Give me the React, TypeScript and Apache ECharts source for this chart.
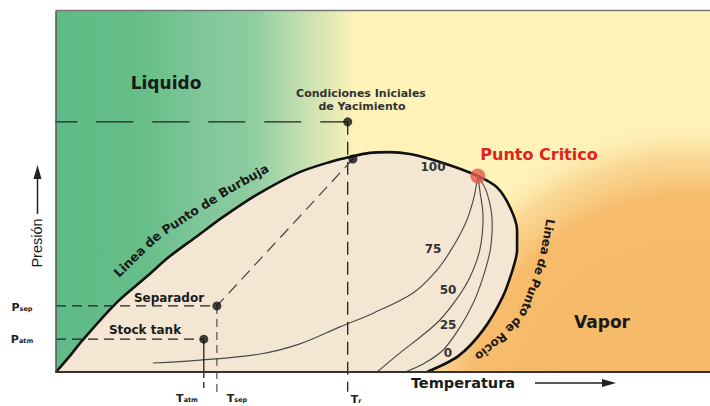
import React, { useEffect, useRef } from "react";
import * as echarts from "echarts";

// Temperature (0-100 relative units) vs Pressure (0-100 relative units)
const bubbleCurve: number[][] = [
  [0, 0], [2.1, 4.4], [4.1, 8.9], [9.2, 19.1], [13.8, 26.3], [17.3, 31.9], [21.4, 37.4],
  [25.5, 42.9], [30.6, 49.0], [36.9, 55.1], [41.9, 58.2], [45.0, 59.6], [48.0, 60.7],
  [51.1, 60.9], [54.1, 60.4], [57.2, 59.0], [61.0, 56.8],
];
const dewCurve: number[][] = [
  [64.5, 54.3], [67.4, 51.2], [69.4, 45.7], [70.5, 39.3], [70.5, 33.8], [69.9, 28.8],
  [68.3, 20.8], [65.3, 11.6], [61.5, 4.4], [56.7, 0],
];
const quality75: number[][] = [
  [14.8, 2.5], [22.0, 3.3], [31.2, 5.0], [37.3, 7.8], [43.4, 12.5], [48.5, 16.3],
  [54.6, 21.9], [58.0, 27.7], [60.2, 33.2], [62.5, 40.7], [63.8, 47.6], [64.5, 54.3],
];
const quality50: number[][] = [
  [64.5, 54.3], [64.8, 50.4], [65.3, 42.9], [64.8, 33.8], [63.3, 26.3], [61.5, 20.8],
  [58.7, 14.4], [55.7, 9.7], [52.6, 5.3], [49.1, 0],
];
const quality25: number[][] = [
  [64.5, 54.3], [65.9, 49.6], [66.7, 41.3], [66.4, 33.8], [65.3, 26.3], [63.8, 19.1],
  [61.8, 12.5], [59.2, 6.1], [56.4, 2.5], [53.4, 0],
];
const criticalPoint = [64.5, 54.3];
const initialConditions = [44.6, 69.3];
const bubblePoint = [45.4, 59.0];
const separatorPoint = [24.6, 18.3];
const stockTankPoint = [22.6, 9.1];
const axisLeftExtent = -2.4;
const tickBelow = [-5.5, -6.4, -5.5]; // Tr, Tsep, Tatm guide ends

const qualityLabels = ["100", "75", "50", "25", "0"];
const bubbleLabelWords = ["Linea", "de", "Punto", "de", "Burbuja"];
const dewLabelWords = ["Linea", "de", "Punto", "de", "Rocio"];

const FONT = "'DejaVu Sans', 'Liberation Sans', sans-serif";
const deg = (d: number) => (d * Math.PI) / 180;

const txt = (
  text: string, x: number, y: number, size: number,
  extra: { rot?: number; weight?: string; fill?: string; family?: string } = {}
) => ({
  type: "text",
  x, y, z: 100,
  rotation: extra.rot ? deg(extra.rot) : 0,
  style: {
    text,
    fontSize: size,
    fontWeight: extra.weight ?? "bold",
    fontFamily: extra.family ?? FONT,
    fill: extra.fill ?? "#1a1a1a",
    align: "center",
    verticalAlign: "middle",
  },
});

let measureCtx: CanvasRenderingContext2D | null = null;
const measure = (t: string, font: string) => {
  if (!measureCtx) measureCtx = document.createElement("canvas").getContext("2d");
  measureCtx!.font = font;
  return measureCtx!.measureText(t).width;
};

// place words along a pixel polyline (layout path for the curved captions)
const wordsAlong = (words: string[], path: number[][], size: number) => {
  const font = `bold ${size}px 'DejaVu Sans'`;
  const space = measure(" ", font);
  const cum = [0];
  for (let i = 1; i < path.length; i++) {
    cum.push(cum[i - 1] + Math.hypot(path[i][0] - path[i - 1][0], path[i][1] - path[i - 1][1]));
  }
  const pointAt = (s: number) => {
    let i = 1;
    while (i < path.length - 1 && cum[i] < s) i++;
    const t = (s - cum[i - 1]) / (cum[i] - cum[i - 1]);
    return [
      path[i - 1][0] + (path[i][0] - path[i - 1][0]) * t,
      path[i - 1][1] + (path[i][1] - path[i - 1][1]) * t,
    ];
  };
  const out: any[] = [];
  let s = 0;
  for (const w of words) {
    const width = measure(w, font);
    const c = pointAt(s + width / 2);
    const a = pointAt(s);
    const b = pointAt(s + width);
    const ang = Math.atan2(b[1] - a[1], b[0] - a[0]);
    out.push(txt(w, c[0], c[1], size, { rot: (-ang * 180) / Math.PI }));
    s += width + space;
  }
  return out;
};

const subLabel = (main: string, sub: string, x: number, y: number) => ({
  type: "text", x, y, z: 100,
  style: {
    text: `{a|${main}}{b|${sub}}`,
    align: "center",
    verticalAlign: "middle",
    rich: {
      a: { fontSize: 11, fontWeight: "bold", fontFamily: FONT, fill: "#222" },
      b: { fontSize: 6.5, fontWeight: "bold", fontFamily: FONT, fill: "#222", padding: [3, 0, 0, 0] },
    },
  },
});

const dashed = (data: number[][], dash: number[], width = 1.3, color = "#222") => ({
  type: "line",
  data,
  symbol: "none",
  clip: false,
  silent: true,
  z: 4,
  lineStyle: { color, width, type: dash },
});

export default function App() {
  const ref = useRef<HTMLDivElement>(null);
  useEffect(() => {
    const chart = echarts.init(ref.current!, undefined, { renderer: "svg" });
    const envelope = [...bubbleCurve, ...dewCurve];
    const option: any = {
      animation: false,
      grid: { left: 56, right: 0, top: 11, bottom: 34 },
      xAxis: {
        type: "value", min: 0, max: 100, z: 10,
        axisLine: { show: true, onZero: false, lineStyle: { color: "#333", width: 2 } },
        axisTick: { show: false }, axisLabel: { show: false }, splitLine: { show: false },
      },
      yAxis: {
        type: "value", min: 0, max: 100, z: 10,
        axisLine: { show: true, onZero: false, lineStyle: { color: "#555", width: 1.5 } },
        axisTick: { show: false }, axisLabel: { show: false }, splitLine: { show: false },
      },
      series: [
        {
          type: "line", data: envelope, symbol: "none", smooth: 0.3, z: 2,
          lineStyle: { color: "#111", width: 2.6 },
          areaStyle: { color: "#f3e7d3", opacity: 1 },
        },
        ...[quality75, quality50, quality25].map((q) => ({
          type: "line", data: q, symbol: "none", smooth: 0.35, z: 3,
          lineStyle: { color: "#4a4a4a", width: 1.15 },
        })),
        dashed([[axisLeftExtent, initialConditions[1]], initialConditions], [37, 19]),
        dashed([initialConditions, [initialConditions[0], tickBelow[0]]], [13, 7]),
        dashed([bubblePoint, separatorPoint], [12, 7], 1.2, "#444"),
        dashed([[0, separatorPoint[1]], separatorPoint], [10, 6]),
        dashed([separatorPoint, [separatorPoint[0], tickBelow[1]]], [8, 5], 1.1, "#444"),
        dashed([[0, stockTankPoint[1]], stockTankPoint], [10, 6]),
        dashed([stockTankPoint, [stockTankPoint[0], 0]], [0], 1.3),
        dashed([[stockTankPoint[0], 0], [stockTankPoint[0], tickBelow[2]]], [6, 4]),
        {
          type: "scatter", z: 6, symbolSize: 9, itemStyle: { color: "#111" },
          data: [initialConditions, bubblePoint, separatorPoint, stockTankPoint],
        },
        {
          type: "scatter", z: 7, symbolSize: 15, itemStyle: { color: "#e35a4b" },
          data: [criticalPoint],
        },
      ],
      graphic: [
        {
          type: "rect", z: -10, silent: true,
          shape: { x: 56, y: 11, width: 654, height: 361 },
          style: {
            fill: new echarts.graphic.LinearGradient(0, 0, 1, 0, [
              { offset: 0, color: "#5fbb86" },
              { offset: 0.13, color: "#66be88" },
              { offset: 0.22, color: "#7fc699" },
              { offset: 0.3, color: "#8dcda0" },
              { offset: 0.36, color: "#b8dbad" },
              { offset: 0.41, color: "#dbe7b4" },
              { offset: 0.46, color: "#fff3b9" },
              { offset: 1, color: "#fff3b9" },
            ]),
          },
        },
        {
          type: "rect", z: -9, silent: true,
          shape: { x: 56, y: 11, width: 654, height: 361 },
          style: {
            fill: {
              type: "radial", x: 690, y: 420, r: 330, global: true,
              colorStops: [
                { offset: 0, color: "rgba(245,184,102,1)" },
                { offset: 0.68, color: "rgba(246,188,108,1)" },
                { offset: 0.8, color: "rgba(248,205,135,0.7)" },
                { offset: 0.92, color: "rgba(255,243,185,0)" },
                { offset: 1, color: "rgba(255,243,185,0)" },
              ],
            },
          },
        },
        { type: "line", z: 50, shape: { x1: 56, y1: 10.5, x2: 710, y2: 10.5 }, style: { stroke: "#777", lineWidth: 1.5 } },
        txt("Liquido", 166, 83, 17),
        txt("Condiciones Iniciales", 361, 93, 11, { fill: "#333" }),
        txt("de Yacimiento", 362, 106, 11, { fill: "#333" }),
        txt("Punto Critico", 539, 154, 16, { fill: "#e0231c" }),
        txt(qualityLabels[0], 433, 167, 12, { fill: "#333" }),
        txt(qualityLabels[1], 433, 249, 12, { fill: "#333" }),
        txt(qualityLabels[2], 448, 290, 12, { fill: "#333" }),
        txt(qualityLabels[3], 448, 325, 12, { fill: "#333" }),
        txt(qualityLabels[4], 448, 353, 12, { fill: "#333" }),
        txt("Vapor", 602, 322, 17),
        txt("Separador", 169, 298, 12),
        txt("Stock tank", 145, 330, 12),
        txt("Temperatura", 463, 383, 14.5),
        txt("Presión", 37, 243, 14.5, { rot: 90, weight: "normal", family: "'Liberation Sans', sans-serif" }),
        ...wordsAlong(bubbleLabelWords,
          [[116, 275], [130, 261], [155, 237], [183, 218], [213, 199], [248, 178], [290, 156]], 12.5),
        ...wordsAlong(dewLabelWords,
          [[550, 219], [548, 233], [543, 259], [533, 290], [521, 318], [493, 345], [463, 366]], 12),
        subLabel("P", "sep", 22, 307),
        subLabel("P", "atm", 22, 339),
        subLabel("T", "atm", 187, 398),
        subLabel("T", "sep", 237, 398),
        subLabel("T", "r", 356, 399),
        // arrows
        { type: "line", z: 50, shape: { x1: 535, y1: 383, x2: 606, y2: 383 }, style: { stroke: "#222", lineWidth: 1.3 } },
        { type: "polygon", z: 50, shape: { points: [[616, 383], [602, 379], [602, 387]] }, style: { fill: "#222" } },
        { type: "line", z: 50, shape: { x1: 37.5, y1: 214, x2: 37.5, y2: 176 }, style: { stroke: "#222", lineWidth: 1.5 } },
        { type: "polygon", z: 50, shape: { points: [[37.5, 165], [33.5, 179], [41.5, 179]] }, style: { fill: "#222" } },
      ],
    };
    chart.setOption(option);
    return () => chart.dispose();
  }, []);
  return (
    <div
      ref={ref}
      style={{ position: "fixed", left: 0, top: 0, width: 710, height: 406, background: "#fff" }}
    />
  );
}
